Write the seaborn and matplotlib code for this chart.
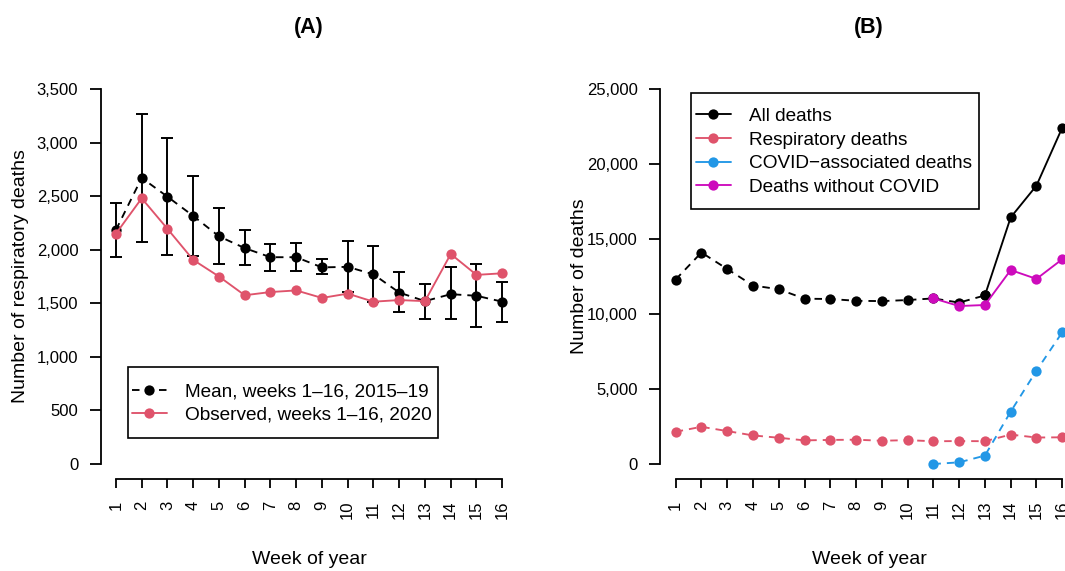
import numpy as np
import matplotlib
matplotlib.use("Agg")
import matplotlib.pyplot as plt
import seaborn as sns
from matplotlib.lines import Line2D
from matplotlib.patches import Rectangle
from matplotlib.ticker import FuncFormatter

sns.set_style("ticks")
plt.rcParams['font.family'] = ['Liberation Sans', 'DejaVu Sans']
for k in ['text.color', 'axes.labelcolor', 'xtick.color', 'ytick.color', 'axes.edgecolor']:
    plt.rcParams[k] = 'black'

# ---------------- data ----------------
weeks = list(range(1, 17))
mean_2015_19 = [2185, 2670, 2495, 2315, 2125, 2015, 1930, 1930, 1835, 1840, 1770, 1600, 1520, 1585, 1570, 1515]
ci_upper = [2435, 3270, 3045, 2685, 2385, 2180, 2055, 2060, 1910, 2085, 2035, 1790, 1680, 1835, 1865, 1700]
ci_lower = [1930, 2070, 1955, 1945, 1870, 1855, 1805, 1805, 1775, 1610, 1515, 1420, 1355, 1350, 1280, 1330]
observed_2020 = [2150, 2480, 2195, 1905, 1750, 1575, 1605, 1620, 1550, 1590, 1515, 1530, 1520, 1960, 1765, 1780]

all_deaths = [12300, 14100, 13000, 11900, 11650, 11020, 11000, 10880, 10860, 10930, 11040, 10760, 11240, 16440, 18560, 22420]
covid_weeks = [11, 12, 13, 14, 15, 16]
covid_deaths = [0, 110, 560, 3490, 6220, 8780]
without_covid = [11040, 10530, 10600, 12930, 12340, 13650]

legend_a = ["Mean, weeks 1\u201316, 2015\u201319", "Observed, weeks 1\u201316, 2020"]
legend_b = ["All deaths", "Respiratory deaths", "COVID\u2212associated deaths", "Deaths without COVID"]

RED = "#DF536B"
BLUE = "#2297E6"
MAG = "#CD0BBC"
BLK = "black"

LW = 1.35
MS = 7.4
DASH = (4, 3.2)
TICK_FS = 12
LAB_FS = 14
LEG_FS = 13.7

W, H = 1065, 571
fig = plt.figure(figsize=(W / 100, H / 100), dpi=100)
bottom = (H - 479) / H
height = 405 / H
axA = fig.add_axes([100.5 / W, bottom, 417.2 / W, height])
axB = fig.add_axes([660.2 / W, bottom, 417.5 / W, height])

def line(ax, x, y, color, ls, z=3):
    sns.lineplot(x=x, y=y, ax=ax, color=color, marker='o', markersize=MS,
                 markeredgewidth=0, linewidth=LW, linestyle=ls,
                 estimator=None, errorbar=None, legend=False, zorder=z)
    ln = ax.lines[-1]
    if ls == '--':
        ln.set_dashes(DASH)

# ---------------- panel A ----------------
err = [np.array(mean_2015_19) - np.array(ci_lower), np.array(ci_upper) - np.array(mean_2015_19)]
axA.errorbar(weeks, mean_2015_19, yerr=err, fmt='none', ecolor=BLK,
             elinewidth=1.4, capsize=4.6, capthick=1.4, zorder=2)
line(axA, weeks, mean_2015_19, BLK, '--', z=3)
line(axA, weeks, observed_2020, RED, '-', z=4)

axA.set_xlim(0.4, 16.6)
axA.set_ylim(-140, 3640)
axA.set_yticks(np.arange(0, 3501, 500))
axA.spines['left'].set_bounds(0, 3500)

# ---------------- panel B ----------------
line(axB, weeks[:13], all_deaths[:13], BLK, '--', z=3)
line(axB, weeks[12:], all_deaths[12:], BLK, '-', z=3)
line(axB, weeks, observed_2020, RED, '--', z=3)
line(axB, covid_weeks, covid_deaths, BLUE, '--', z=4)
line(axB, covid_weeks, without_covid, MAG, '-', z=5)

axB.set_xlim(0.4, 16.6)
axB.set_ylim(-1000, 26000)
axB.set_yticks(np.arange(0, 25001, 5000))
axB.spines['left'].set_bounds(0, 25000)

fmt = FuncFormatter(lambda v, p: f"{int(v):,}")
for ax, title, ylab in [(axA, "(A)", "Number of respiratory deaths"),
                        (axB, "(B)", "Number of deaths")]:
    sns.despine(ax=ax)
    ax.spines['bottom'].set_bounds(1, 16)
    for s in ['left', 'bottom']:
        ax.spines[s].set_linewidth(1.3)
        ax.spines[s].set_color('black')
    ax.set_xticks(weeks)
    ax.set_xticklabels([str(w) for w in weeks], rotation=90, fontsize=TICK_FS)
    ax.yaxis.set_major_formatter(fmt)
    ax.tick_params(axis='y', labelsize=TICK_FS, length=8, width=1.3, pad=8, color='black', labelcolor='black')
    ax.tick_params(axis='x', labelsize=TICK_FS, length=6.5, width=1.3, pad=9, color='black', labelcolor='black')
    ax.set_xlabel("Week of year", fontsize=LAB_FS, color='black')
    ax.xaxis.set_label_coords(0.5, -0.178)
    ax.set_ylabel(ylab, fontsize=LAB_FS, color='black')
    ax.yaxis.set_label_coords(-0.172, 0.5)
    ax.text(0.5, (479 - 28) / 405, title, transform=ax.transAxes, ha='center', va='center',
            fontsize=15.5, fontweight='bold', color='black')
    ax.set_facecolor('white')
    ax.grid(False)

# ---------------- legends ----------------
def legend_box(ax, handles, labels, rect, anchor):
    x0, y0, x1, y1 = rect
    ax.add_patch(Rectangle((x0, y0), x1 - x0, y1 - y0, transform=ax.transAxes,
                           facecolor='white', edgecolor='black', linewidth=1.2,
                           zorder=6, clip_on=False))
    leg = ax.legend(handles, labels, loc='center left', bbox_to_anchor=anchor,
                    borderaxespad=0, borderpad=0, fontsize=LEG_FS, frameon=False,
                    handlelength=1.85, handletextpad=0.95, labelspacing=0.33)
    leg.set_zorder(7)
    for t in leg.get_texts():
        t.set_color('black')
    return leg

hA = [Line2D([], [], color=BLK, ls='--', dashes=DASH, lw=LW, marker='o', ms=MS, mew=0),
      Line2D([], [], color=RED, ls='-', lw=LW, marker='o', ms=MS, mew=0)]
legend_box(axA, hA, legend_a, (0.0652, 0.102, 0.8082, 0.2758), (0.0748, 0.1867))

hB = [Line2D([], [], color=c, ls='-', lw=LW, marker='o', ms=MS, mew=0) for c in [BLK, RED, BLUE, MAG]]
legend_box(axB, hB, legend_b, (0.0738, 0.6667, 0.7636, 0.9538), (0.085, 0.808))

fig.savefig("out.png", dpi=100, facecolor='white')
